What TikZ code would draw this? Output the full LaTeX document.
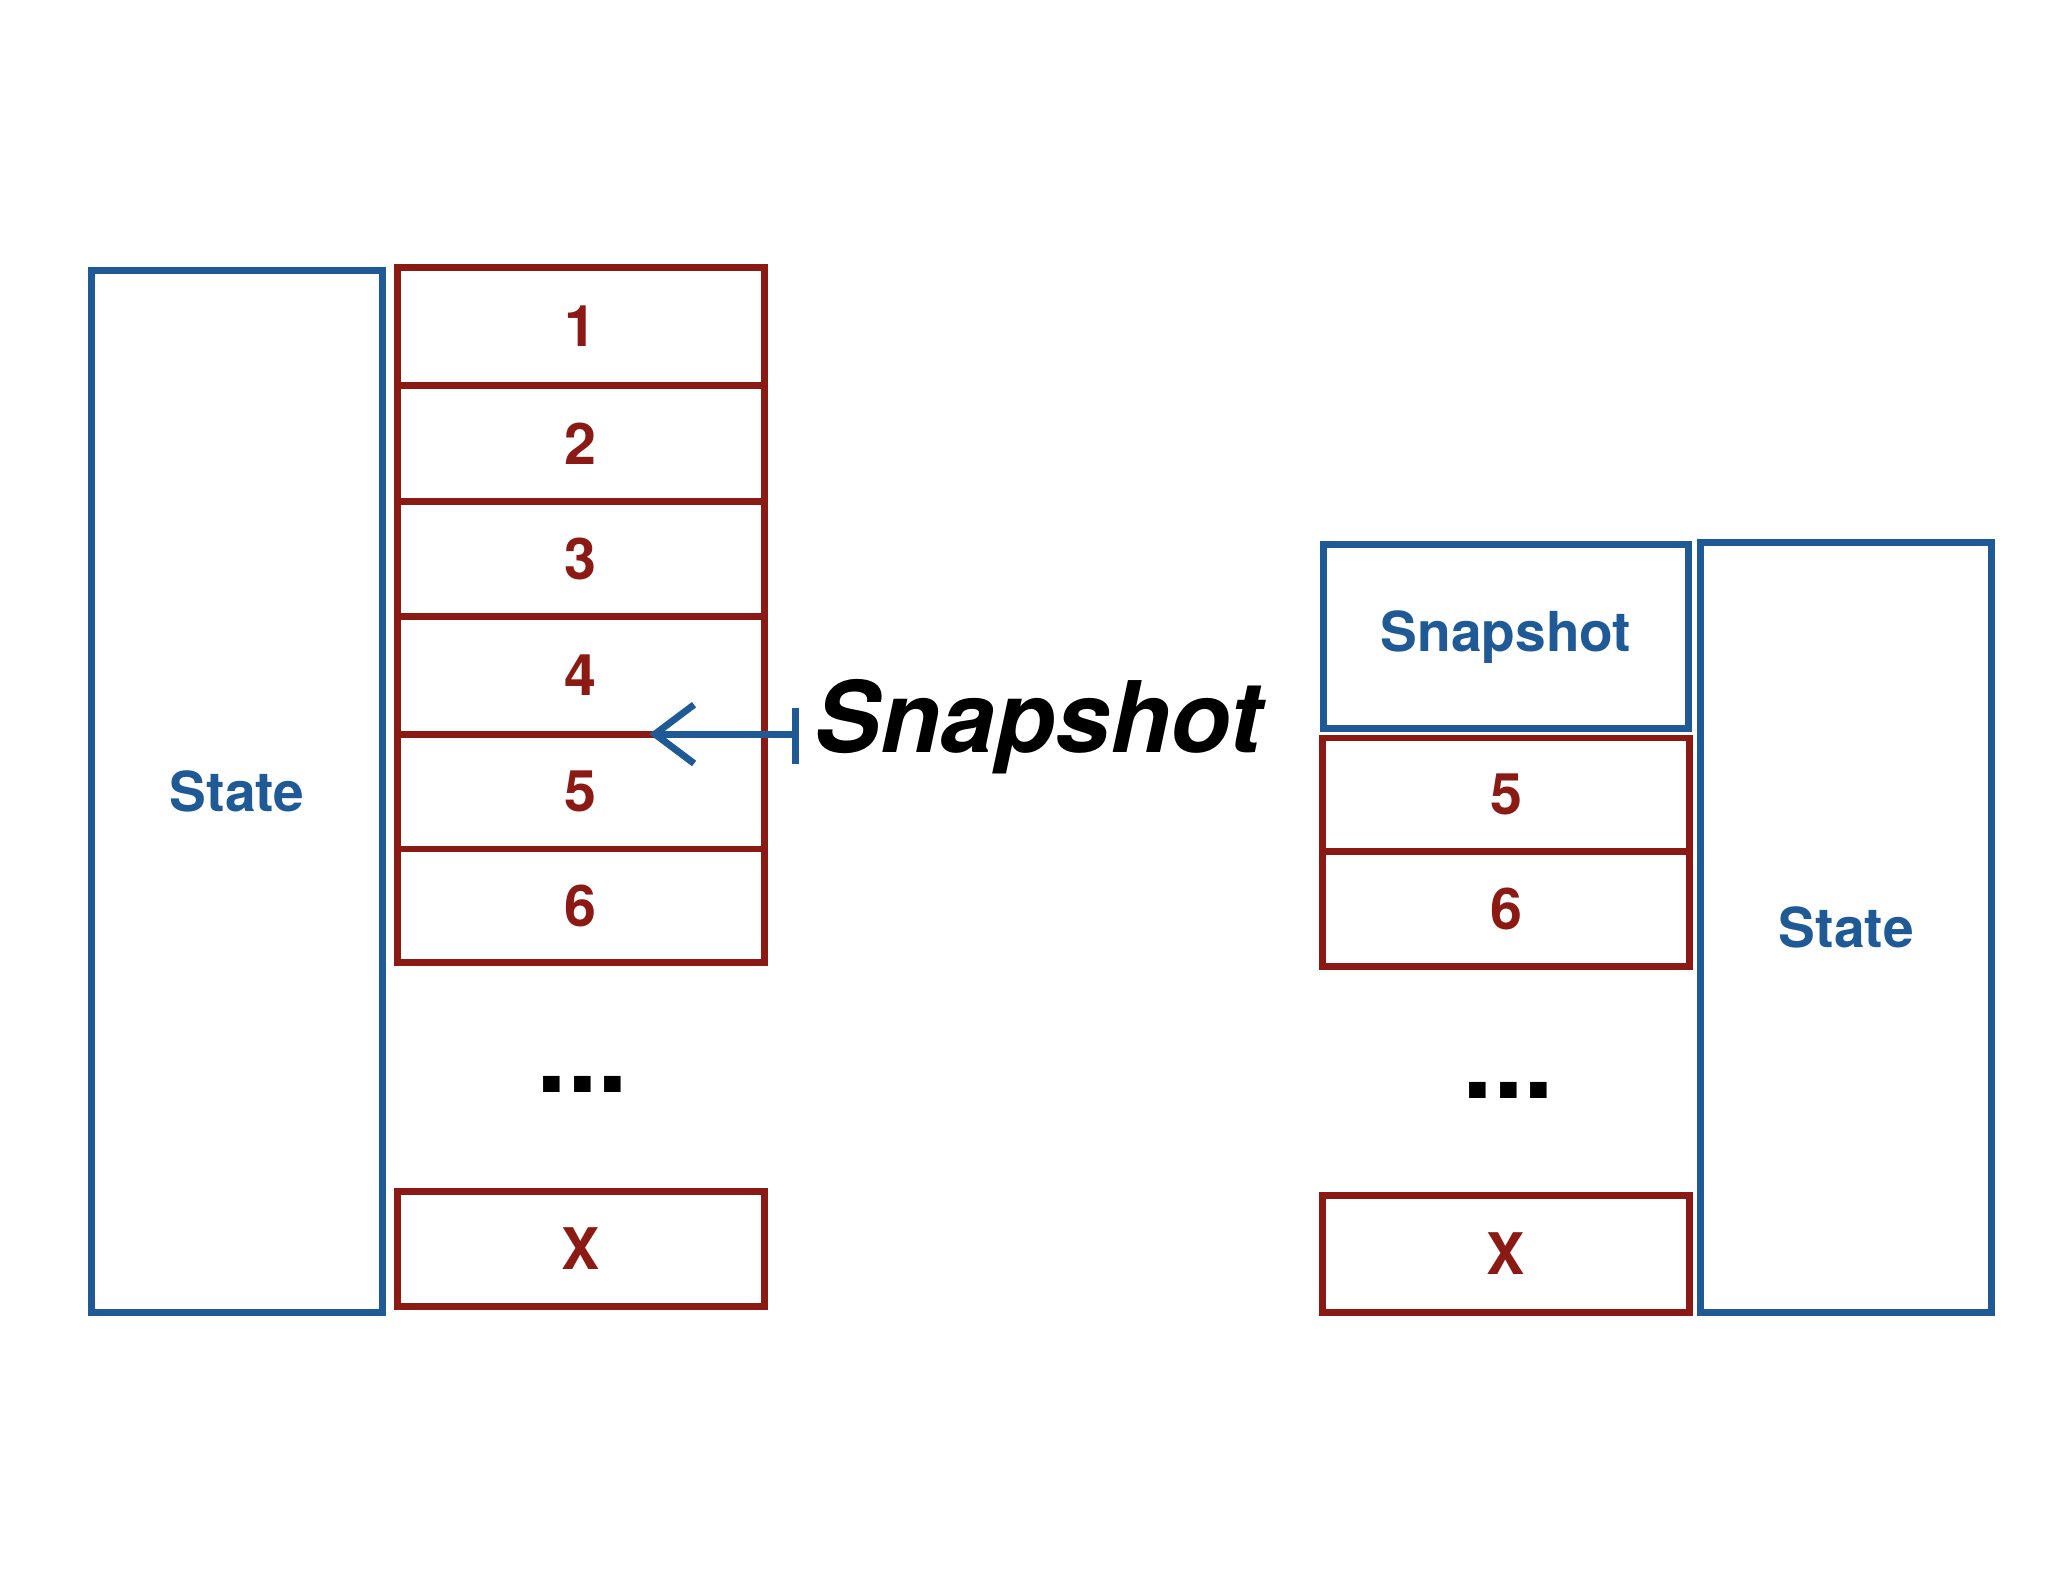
\documentclass[tikz,border=0pt]{standalone}
\usepackage{fontspec}
\setmainfont{TeX Gyre Heros}
\usetikzlibrary{arrows.meta,positioning}
\definecolor{stateblue}{HTML}{1F5A96}
\definecolor{logred}{HTML}{8B1A14}
\tikzset{
  statebox/.style={draw=stateblue,line width=1.5pt,text=stateblue,font=\bfseries\fontsize{12}{14}\selectfont},
  logbox/.style={draw=logred,line width=1.5pt,text=logred,font=\bfseries\fontsize{12.5}{14}\selectfont,
    minimum width=2.81cm,inner sep=0pt},
  dots/.style={font=\bfseries\fontsize{24}{24}\selectfont}
}
\begin{document}
\begin{tikzpicture}
\useasboundingbox (0,0) rectangle (15.68,-12.11);
% left side
\node[statebox,minimum width=2.23cm,minimum height=7.98cm] (lstate) at (1.815,-6.06) {State};
\foreach \n/\t/\b in {1/2.05/2.95,2/2.95/3.84,3/3.84/4.72,4/4.72/5.62,5/5.62/6.50,6/6.50/7.37}
  \node[logbox,minimum height={(\b-\t)*1cm}] (l\n) at (4.445,{-(\t+\b)/2}) {\n};
\node[dots] (ldots) at (4.46,-8.30) {...};
\node[logbox,minimum height=0.88cm] (lx) at (4.445,-9.56) {X};
% snapshot arrow
\coordinate (barT) at (6.09,-5.42);
\coordinate (barB) at (6.09,-5.85);
\coordinate (tip) at (4.97,-5.62);
\draw[stateblue,line width=1.5pt] (barT) -- (barB);
\draw[stateblue,line width=1.5pt,-{Straight Barb[length=3mm,width=4.5mm]}] (6.09,-5.62) -- (tip);
\node[font=\bfseries\itshape\fontsize{21.5}{24}\selectfont] (snap) at (7.95,-5.56) {Snapshot};
% right side
\node[statebox,minimum width=2.80cm,minimum height=1.41cm] (rsnap) at (11.53,-4.875) {Snapshot};
\node[logbox,minimum height=0.87cm] (r5) at (11.53,-6.085) {5};
\node[logbox,minimum height=0.88cm] (r6) at (11.53,-6.96) {6};
\node[dots] (rdots) at (11.55,-8.35) {...};
\node[logbox,minimum height=0.90cm] (rx) at (11.53,-9.60) {X};
\node[statebox,minimum width=2.23cm,minimum height=5.90cm] (rstate) at (14.135,-7.10) {State};
\end{tikzpicture}
\end{document}
